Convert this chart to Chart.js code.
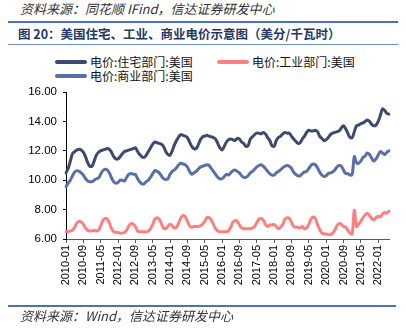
<!DOCTYPE html>
<html><head><meta charset="utf-8">
<script src="https://cdn.jsdelivr.net/npm/chart.js@4"></script>
<style>
html,body{margin:0;padding:0;background:#fff;}
#wrap{position:relative;width:406px;height:333px;overflow:hidden;font-family:"Liberation Sans","Noto Sans CJK SC",sans-serif;}
.src{position:absolute;left:20px;font-size:13px;font-style:italic;color:#333;white-space:nowrap;font-family:"Noto Sans CJK SC","Liberation Sans",sans-serif;}
.rule{position:absolute;left:8px;height:0;}
#title{position:absolute;left:18px;top:24px;font-size:12.5px;font-weight:bold;color:#1f3864;white-space:nowrap;font-family:"Noto Sans CJK SC","Liberation Sans",sans-serif;}
.lg{position:absolute;font-size:12px;color:#111;white-space:nowrap;font-family:"Noto Sans CJK SC","Liberation Sans",sans-serif;line-height:14px;}
.sw{position:absolute;height:4px;border-radius:2px;}
canvas{position:absolute;left:0;top:0;}
</style></head>
<body>
<div id="wrap">
  <div class="src" style="top:-1px;">资料来源：同花顺 IFind，信达证券研发中心</div>
  <div class="rule" style="top:21px;width:390px;border-top:2px solid #4a73b0;"></div>
  <div id="title">图 20：美国住宅、工业、商业电价示意图（美分/千瓦时）</div>
  <div class="rule" style="top:44px;width:390px;border-top:1.5px solid #6f93c8;"></div>
  <div id="legend"></div>
  <canvas id="c" width="406" height="333"></canvas>
  <div class="rule" style="top:305px;width:388px;border-top:2px solid #4a73b0;"></div>
  <div class="src" style="top:306px;">资料来源：Wind，信达证券研发中心</div>
</div>
<script>
// ---- data ----
const startYear = 2010, monthsCount = 150; // 2010-01 .. 2022-06
const categories = [];
for (let i = 0; i < monthsCount; i++) {
  const y = startYear + Math.floor(i / 12), m = (i % 12) + 1;
  categories.push(y + '-' + (m < 10 ? '0' + m : m));
}
const seriesNames = ['电价:住宅部门:美国', '电价:工业部门:美国', '电价:商业部门:美国'];
const residential = [
  10.5,10.8,11.3,11.8,11.95,12.05,12.1,12.05,11.9,11.6,11.2,10.95,
  10.95,11.3,11.7,11.9,12.0,12.05,12.1,12.15,12.1,11.9,11.6,11.45,
  11.45,11.6,11.8,11.95,12.0,12.05,12.1,12.15,12.2,11.95,11.75,11.6,
  11.55,11.7,11.95,12.2,12.45,12.6,12.55,12.5,12.45,12.3,11.95,11.75,
  11.7,12.0,12.4,12.7,12.95,13.1,13.05,13.0,12.9,12.6,12.3,12.15,
  12.15,12.4,12.75,12.95,13.0,13.05,13.0,12.95,12.9,12.8,12.5,12.2,
  12.05,12.3,12.6,12.75,12.8,12.75,12.7,12.85,12.8,12.6,12.5,12.3,
  12.35,12.8,12.95,13.1,13.2,13.2,13.15,13.25,13.15,12.9,12.7,12.35,
  12.3,12.7,12.9,13.0,13.15,13.25,13.2,13.2,13.0,12.8,12.65,12.5,
  12.55,12.8,13.0,13.25,13.4,13.35,13.35,13.4,13.3,13.0,12.85,12.7,
  12.75,12.9,13.1,13.2,13.25,13.3,13.35,13.55,13.7,13.5,13.2,12.9,
  12.9,13.3,13.7,13.75,13.85,13.9,14.0,14.1,14.0,13.8,13.7,13.75,
  14.0,14.4,14.85,14.75,14.55,14.5
];
const industrial = [
  6.5,6.5,6.55,6.6,6.8,7.1,7.2,7.15,7.0,6.75,6.6,6.55,
  6.55,6.6,6.55,6.6,6.9,7.25,7.4,7.35,7.1,6.7,6.5,6.45,
  6.45,6.4,6.4,6.45,6.6,6.9,7.05,7.0,6.85,6.55,6.5,6.5,
  6.5,6.5,6.55,6.7,7.0,7.35,7.45,7.35,7.05,6.75,6.7,6.85,
  7.0,6.9,6.75,6.8,7.1,7.45,7.6,7.5,7.2,6.9,6.8,6.85,
  6.85,6.85,6.9,7.0,7.2,7.45,7.45,7.3,7.0,6.7,6.55,6.5,
  6.5,6.5,6.5,6.55,6.8,7.15,7.25,7.2,6.95,6.75,6.7,6.7,
  6.7,6.7,6.75,6.85,7.1,7.35,7.4,7.3,7.0,6.85,6.95,6.95,
  7.0,6.85,6.7,6.8,7.0,7.35,7.45,7.4,7.15,6.85,6.8,6.8,
  6.75,6.85,6.7,6.75,7.0,7.35,7.5,7.4,7.0,6.65,6.4,6.35,
  6.35,6.3,6.3,6.4,6.6,6.9,7.05,7.0,6.85,6.8,6.6,6.4,
  6.35,7.95,6.85,7.0,7.2,7.45,7.65,7.75,7.6,7.4,7.3,7.45,
  7.55,7.5,7.7,7.8,7.75,7.9
];
const commercial = [
  9.55,9.8,10.0,10.3,10.55,10.65,10.6,10.5,10.35,10.1,9.95,9.9,
  9.9,10.0,10.1,10.15,10.4,10.65,10.75,10.7,10.5,10.15,9.9,9.8,
  9.85,10.0,10.0,9.95,10.2,10.4,10.45,10.4,10.4,10.1,9.9,9.75,
  9.75,9.9,10.0,10.2,10.45,10.65,10.6,10.5,10.3,10.1,10.05,10.1,
  10.4,10.6,10.7,10.85,11.05,11.15,11.1,11.05,10.9,10.6,10.4,10.5,
  10.6,10.75,10.9,10.95,11.0,11.05,11.0,10.8,10.6,10.4,10.2,10.1,
  10.1,10.25,10.4,10.35,10.5,10.65,10.7,10.6,10.5,10.3,10.2,10.2,
  10.3,10.5,10.6,10.75,10.9,11.0,11.05,10.95,10.8,10.6,10.45,10.35,
  10.35,10.5,10.6,10.7,10.85,10.95,11.0,10.95,10.8,10.55,10.4,10.3,
  10.3,10.45,10.55,10.6,10.8,11.0,11.1,11.05,10.85,10.55,10.35,10.25,
  10.3,10.45,10.5,10.55,10.7,10.9,11.0,10.95,10.7,10.45,10.45,10.35,
  10.4,11.6,11.2,11.15,11.3,11.55,11.65,11.85,11.75,11.5,11.3,11.45,
  11.7,11.95,11.85,11.75,11.9,12.0
];
const yTicks = [6, 8, 10, 12, 14, 16];
const colors = ['#3d4a6e', '#ff7f7f', '#5a6ea8'];

// ---- legend (HTML) ----
const legendPos = [{x:55,y:55},{x:217,y:55},{x:55,y:69}];
const lg = document.getElementById('legend');
seriesNames.forEach((n,i)=>{
  const p = legendPos[i];
  const sw = document.createElement('div');
  sw.className='sw'; sw.style.left=p.x+'px'; sw.style.top=(p.y+5)+'px'; sw.style.width='32px'; sw.style.background=colors[i];
  lg.appendChild(sw);
  const t = document.createElement('div');
  t.className='lg'; t.style.left=(p.x+35)+'px'; t.style.top=p.y+'px'; t.textContent=n;
  lg.appendChild(t);
});

// ---- chart ----
const tickEvery = 8;
new Chart(document.getElementById('c'), {
  type: 'line',
  data: {
    labels: categories,
    datasets: [
      {label: seriesNames[0], data: residential, borderColor: colors[0]},
      {label: seriesNames[1], data: industrial, borderColor: colors[1]},
      {label: seriesNames[2], data: commercial, borderColor: colors[2]}
    ].map(d => Object.assign(d, {borderWidth: 3, pointRadius: 0, tension: 0.35, fill: false, borderCapStyle: 'round', borderJoinStyle: 'round'}))
  },
  options: {
    responsive: false,
    animation: false,
    layout: {padding: {top: 92, right: 17, left: 0, bottom: 0}},
    plugins: {legend: {display: false}, tooltip: {enabled: false}},
    scales: {
      x: {
        offset: false,
        afterFit: s => { s.height = 94; },
        border: {color: '#595959', width: 1},
        grid: {drawOnChartArea: false, drawTicks: true, tickLength: 4,
               color: c => (c.index % tickEvery === 0 ? '#595959' : 'rgba(0,0,0,0)')},
        ticks: {autoSkip: false, maxRotation: 90, minRotation: 90, padding: 2,
                color: '#000', font: {family: '"Liberation Sans", Arial, sans-serif', size: 11},
                callback: function(v, i){ return i % tickEvery === 0 ? categories[i] : ''; }}
      },
      y: {
        min: 6, max: 16,
        afterFit: s => { s.width = 66; },
        afterBuildTicks: s => { s.ticks = yTicks.map(v => ({value: v})); },
        border: {color: '#000', width: 1},
        grid: {drawOnChartArea: false, drawTicks: true, tickLength: 3, color: '#000'},
        ticks: {padding: 6, color: '#000', font: {family: '"Liberation Sans", Arial, sans-serif', size: 11.5},
                callback: v => Number(v).toFixed(2)}
      }
    }
  }
});
</script>
</body></html>
